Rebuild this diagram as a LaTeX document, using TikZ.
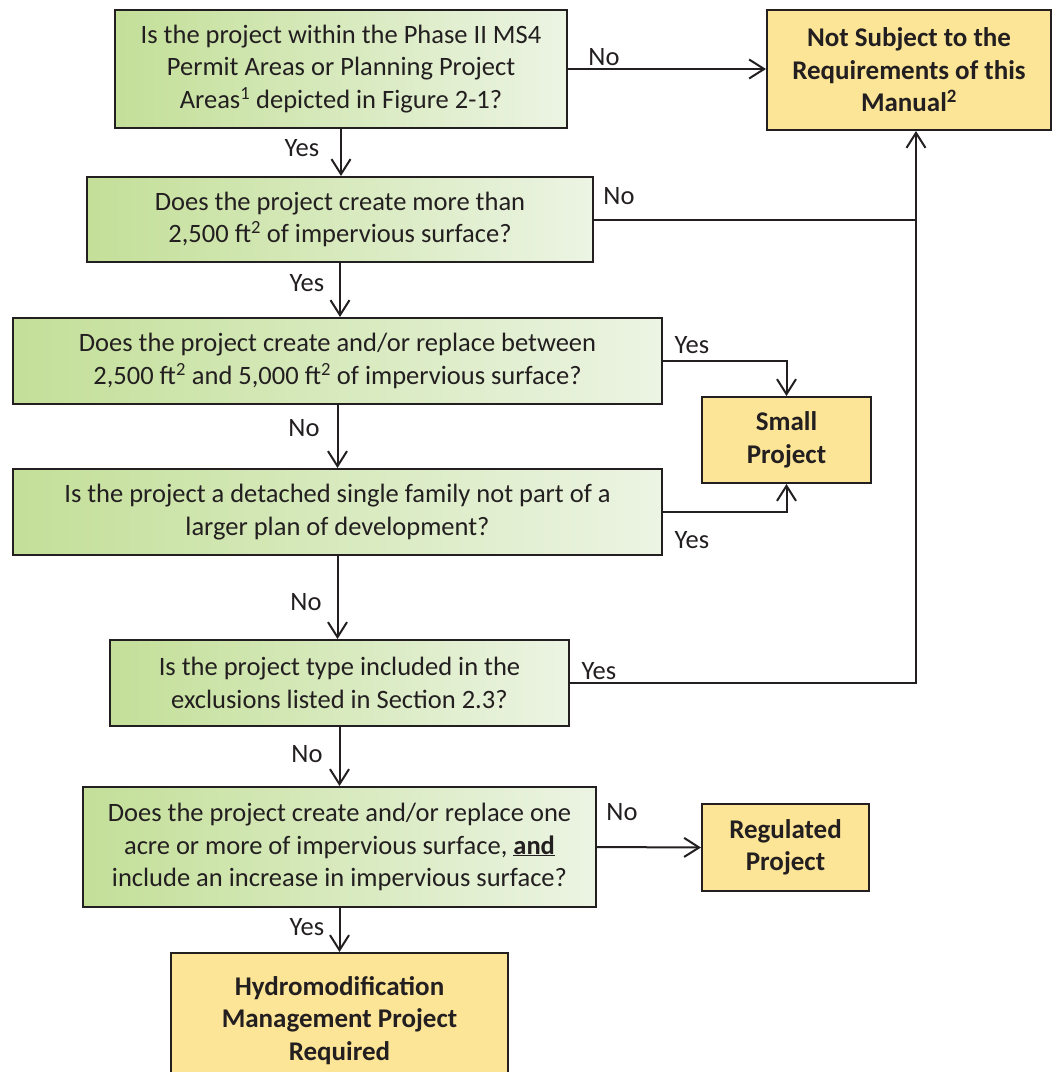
\documentclass[tikz,border=0pt]{standalone}
\usepackage{fontspec}
\setmainfont{Carlito}
\usetikzlibrary{arrows.meta}
\definecolor{gl}{RGB}{195,223,152}
\definecolor{gr}{RGB}{236,244,227}
\definecolor{yel}{RGB}{252,229,150}
\definecolor{ln}{RGB}{35,31,32}
\begin{document}
\begin{tikzpicture}[x=1pt,y=-1pt,
  every node/.style={font=\fontsize{26.5}{32.5}\selectfont, text=ln},
  qbox/.style={draw=ln, line width=2pt, left color=gl, right color=gr, align=center, inner sep=0pt},
  ybox/.style={draw=ln, line width=2pt, fill=yel, align=center, inner sep=0pt, font=\fontsize{27}{32.5}\selectfont\bfseries},
  lbl/.style={inner sep=0pt},
  arr/.style={draw=ln, line width=2pt, -{Straight Barb[length=15pt,width=19pt,line width=2pt]}},
  ln2/.style={draw=ln, line width=2pt}]
\useasboundingbox (0,0) rectangle (1052,1072);
\node[qbox, minimum width=452pt, minimum height=118pt] (b1) at (341,69) {Is the project within the Phase II MS4\\Permit Areas or Planning Project\\Areas\textsuperscript{1} depicted in Figure 2-1?};
\node[ybox, minimum width=284pt, minimum height=120pt] (ns) at (909,70) {Not Subject to the\\Requirements of this\\Manual\textsuperscript{2}};
\node[qbox, minimum width=506pt, minimum height=85pt] (b2) at (340,219.5) {Does the project create more than\\2,500 ft\textsuperscript{2} of impervious surface?};
\node[qbox, minimum width=649pt, minimum height=86pt] (b3) at (337.5,361) {Does the project create and/or replace between\\2,500 ft\textsuperscript{2} and 5,000 ft\textsuperscript{2} of impervious surface?};
\node[qbox, minimum width=649pt, minimum height=86pt] (b4) at (337.5,512) {Is the project a detached single family not part of a\\larger plan of development?};
\node[ybox, minimum width=169pt, minimum height=86pt] (sp) at (786.5,440) {Small\\Project};
\node[qbox, minimum width=459pt, minimum height=86pt] (b5) at (339.5,683) {Is the project type included in the\\exclusions listed in Section 2.3?};
\node[qbox, minimum width=513pt, minimum height=120pt] (b6) at (339.5,847) {Does the project create and/or replace one\\acre or more of impervious surface, \underline{\textbf{and}}\\include an increase in impervious surface?};
\node[ybox, minimum width=167pt, minimum height=87pt] (rp) at (785.5,847.5) {Regulated\\Project};
\node[ybox, minimum width=337pt, minimum height=130pt, text depth=0pt] (hy) at (339.5,1018) {Hydromodification\\Management Project\\Required};
\coordinate (jx) at (916,219.5);
% connectors
\draw[arr] (b1.east) -- (ns.west |- b1.east);
\draw[arr] (b1.south) -- (b1.south |- b2.north);
\draw[ln2] (b2.east) -- (b2.east -| jx);
\draw[arr] (b5.east) -| (ns.south -| jx);
\draw[arr] (b2.south) -- (b2.south |- b3.north);
\draw[arr] (b3.south) -- (b3.south |- b4.north);
\draw[arr] (b3.east) -| (sp.north);
\draw[arr] (b4.east) -| (sp.south);
\draw[arr] (b4.south) -- (b4.south |- b5.north);
\draw[arr] (b5.south) -- (b5.south |- b6.north);
\draw[arr] (b6.east) -- (rp.west);
\draw[arr] (b6.south) -- (b6.south |- hy.north);
% labels
\node[lbl] (l1) at (604,57) {No};
\node[lbl] (l2) at (302,148) {Yes};
\node[lbl] (l3) at (619,196) {No};
\node[lbl] (l4) at (307,283) {Yes};
\node[lbl] (l5) at (692,345) {Yes};
\node[lbl] (l6) at (304,428) {No};
\node[lbl] (l7) at (692,540) {Yes};
\node[lbl] (l8) at (306,602) {No};
\node[lbl] (l9) at (599,671) {Yes};
\node[lbl] (l10) at (307,754) {No};
\node[lbl] (l11) at (622,812) {No};
\node[lbl] (l12) at (307,927) {Yes};
\end{tikzpicture}
\end{document}
